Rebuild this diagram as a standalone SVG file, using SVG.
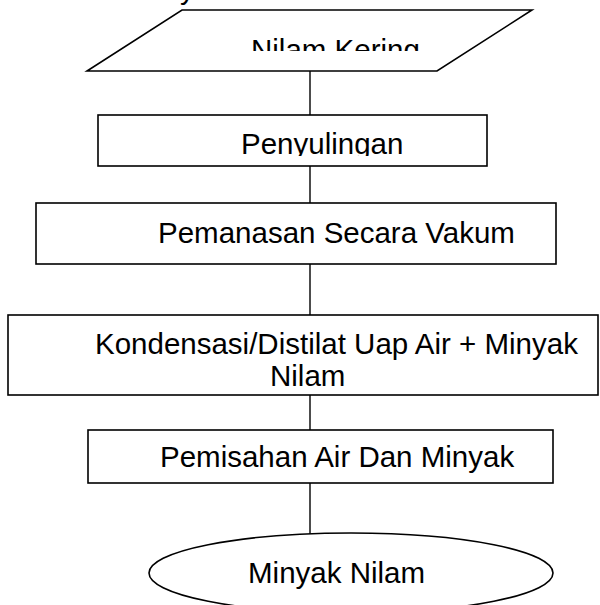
<svg xmlns="http://www.w3.org/2000/svg" width="600" height="605" viewBox="0 0 600 605">
  <defs>
    <style>
      .shape { fill: #ffffff; stroke: #000000; stroke-width: 1.6; }
      .conn { stroke: #000000; stroke-width: 1.4; fill: none; }
      .lbl { font-family: "Liberation Sans", Arial, sans-serif; font-size: 29.5px; fill: #000000; }
    </style>
    <clipPath id="clipKering"><rect x="180" y="12" width="320" height="39"/></clipPath>
    <clipPath id="clipPenyulingan"><rect x="100" y="117" width="385" height="39"/></clipPath>
  </defs>
  <rect width="600" height="605" fill="#ffffff"/>

  <g id="fragment">
    <text class="lbl" x="180" y="-1">y</text>
  </g>

  <g id="connectors">
    <line class="conn" x1="310" y1="71" x2="310" y2="115"/>
    <line class="conn" x1="310" y1="166" x2="310" y2="203"/>
    <line class="conn" x1="310" y1="264" x2="310" y2="315"/>
    <line class="conn" x1="310" y1="395" x2="310" y2="430"/>
    <line class="conn" x1="310" y1="483" x2="310" y2="534"/>
  </g>

  <g id="node-nilam-kering">
    <polygon class="shape" points="182,10 532,10 437,71 87,71"/>
    <text class="lbl" x="251" y="60" clip-path="url(#clipKering)">Nilam Kering</text>
  </g>

  <g id="node-penyulingan">
    <rect class="shape" x="98" y="115" width="389" height="51"/>
    <text class="lbl" x="241" y="154" clip-path="url(#clipPenyulingan)">Penyulingan</text>
  </g>

  <g id="node-pemanasan">
    <rect class="shape" x="36" y="203" width="520" height="61"/>
    <text class="lbl" x="158" y="243">Pemanasan Secara Vakum</text>
  </g>

  <g id="node-kondensasi">
    <rect class="shape" x="8" y="315" width="590" height="80"/>
    <text class="lbl" x="95" y="354">Kondensasi/Distilat Uap Air + Minyak</text>
    <text class="lbl" x="270" y="386">Nilam</text>
  </g>

  <g id="node-pemisahan">
    <rect class="shape" x="88" y="430" width="465" height="53"/>
    <text class="lbl" x="160" y="467">Pemisahan Air Dan Minyak</text>
  </g>

  <g id="node-minyak-nilam">
    <ellipse class="shape" cx="351" cy="573" rx="202" ry="40"/>
    <text class="lbl" x="248" y="583">Minyak Nilam</text>
  </g>
</svg>
